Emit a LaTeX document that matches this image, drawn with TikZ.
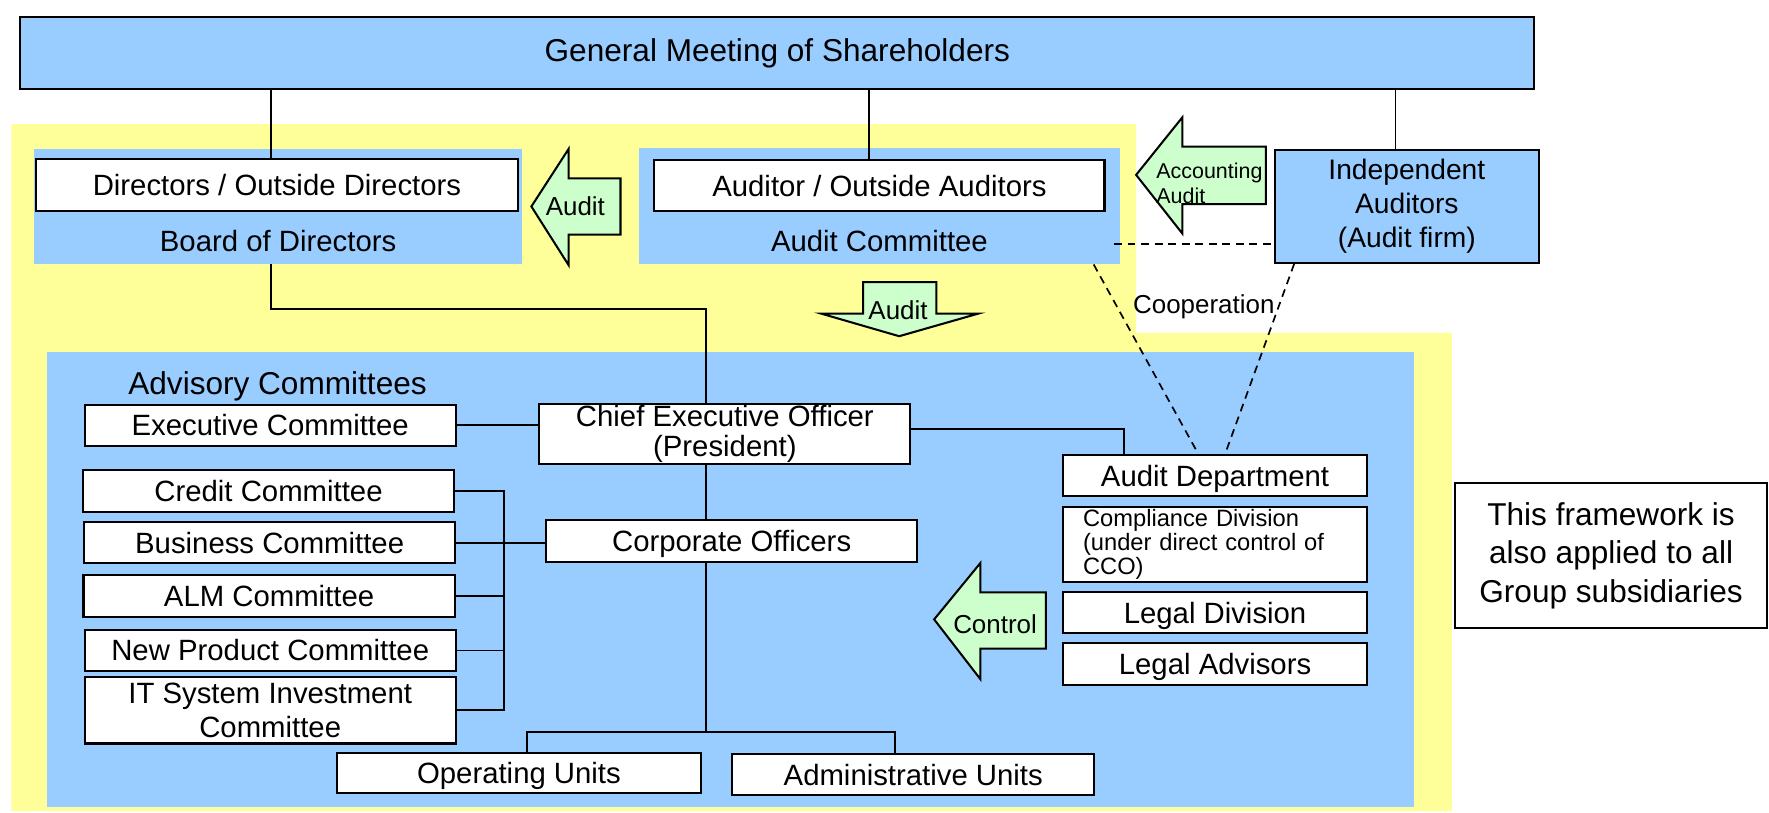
\documentclass[tikz,border=0pt]{standalone}
\usepackage{fontspec}
\setmainfont{Liberation Sans}
\definecolor{panelblue}{HTML}{99CCFF}
\definecolor{backyellow}{HTML}{FFFF99}
\definecolor{arrowgreen}{HTML}{CCFFCC}
\newcommand{\fs}[2]{\fontsize{#1}{#2}\selectfont}

\begin{document}
\begin{tikzpicture}[x=0.5pt, y=-0.5pt,
   every node/.style={font=\fs{13pt}{13.5pt}, inner sep=0pt, align=center},
   box/.style={draw, fill=white, line width=0.9pt, minimum width=164.5pt, minimum height=18pt,
               text height=11.8pt, text depth=2.5pt},
   multi/.style={text height=, text depth=},
   panel/.style={fill=panelblue},
   bigarrow/.style={draw, fill=arrowgreen, line width=0.9pt, line join=miter},
   small/.style={font=\fs{11.5pt}{12pt}},
   link/.style={line width=0.75pt},
   coop/.style={link, dash pattern=on 3.5pt off 2.5pt}]

\useasboundingbox (0,0) rectangle (1568,720);
\fill[backyellow] (10,110) -- (1007,110) -- (1007,295) -- (1287,295) -- (1287,719) -- (10,719) -- cycle;
\fill[panelblue] (42,312) rectangle (1253,715);

\node[panel, draw, line width=0.9pt, minimum width=671pt, minimum height=32pt, font=\fs{14pt}{16pt}] (gms) at (689,47) {General Meeting of Shareholders};

\node[panel, minimum width=216.5pt, minimum height=51pt] (board) at (246.5,183) {};
\node[box, minimum width=213.5pt, minimum height=23pt] (dirs) at (245.5,164) {Directors / Outside Directors};
\node (boardtext) at (246.5,214) {Board of Directors};

\node[panel, minimum width=213.5pt, minimum height=51.5pt] (auditcom) at (779.5,182.5) {};
\node[box, minimum width=199.5pt, minimum height=22.5pt] (auditors) at (779.5,164.5) {Auditor / Outside Auditors};
\node (auditcomtext) at (779.5,214) {Audit Committee};

\node[panel, draw, line width=0.9pt, minimum width=117pt, minimum height=50pt, font=\fs{12.5pt}{15pt}] (indep) at (1247,183) {Independent\\Auditors\\(Audit firm)};

\node[font=\fs{14pt}{16pt}] (advisory) at (246,342) {Advisory Committees};
\node[box] (exec) at (239.5,377) {Executive Committee};
\node[box, multi, minimum height=26.5pt] (ceo) at (642.5,384.5) {Chief Executive Officer\\(President)};
\node[box, minimum height=18.5pt] (credit) at (238,435.5) {Credit Committee};
\node[box] (business) at (239,481) {Business Committee};
\node[box, minimum height=18.5pt] (alm) at (238.5,528.5) {ALM Committee};
\node[box, minimum height=18.5pt] (newprod) at (239.5,576.5) {New Product Committee};
\node[box, multi, minimum height=29.5pt, font=\fs{13pt}{15pt}] (itsys) at (239.5,629.5) {IT System Investment\\Committee};
\node[box, minimum height=18.5pt] (corp) at (648.5,479.5) {Corporate Officers};
\node[box, minimum width=161pt] (opunits) at (460,685) {Operating Units};
\node[box, minimum width=160.5pt] (adminunits) at (809.5,686.5) {Administrative Units};

\node[box, minimum width=135pt, minimum height=18.5pt] (auditdept) at (1077,421.5) {Audit Department};
\node[box, multi, minimum width=135pt, minimum height=33.5pt, text width=117pt, align=left, font=\fs{10.5pt}{10.5pt}] (compliance) at (1077,482.5) {Compliance Division\\(under direct control of\\CCO)};
\node[box, minimum width=135pt] (legaldiv) at (1077,543) {Legal Division};
\node[box, minimum width=135pt, minimum height=18.5pt] (legaladv) at (1077,588.5) {Legal Advisors};

\node[box, multi, minimum width=138pt, minimum height=64.5pt, font=\fs{14pt}{17pt}] (framework) at (1428,492.5) {This framework is\\also applied to all\\Group subsidiaries};

\draw[bigarrow] (471,183) -- (504,132) -- (504,158) -- (550,158) -- (550,208) -- (504,208) -- (504,235) -- cycle;
\node[small] (auditleft) at (510,183) {Audit};
\draw[bigarrow] (1007,155) -- (1048,104) -- (1048,130) -- (1122,130) -- (1122,181) -- (1048,181) -- (1048,207) -- cycle;
\node[font=\fs{9.5pt}{11.5pt}, align=left] (acctaudit) at (1072,162.5) {Accounting\\Audit};
\draw[bigarrow] (765,250) -- (830,250) -- (830,278) -- (867,278) -- (797,298) -- (728,278) -- (765,278) -- cycle;
\node[small] (auditdown) at (796,275) {Audit};
\draw[bigarrow] (828,549) -- (869,499) -- (869,525) -- (927,525) -- (927,575) -- (869,575) -- (869,602) -- cycle;
\node[small] (control) at (882,553) {Control};

\coordinate (spine) at (626,274);
\coordinate (bus) at (447,481);
\coordinate (split) at (626,649);

\draw[link] ([xshift=-2.75pt]dirs.north) -- ([xshift=-2.75pt]dirs.north |- gms.south);
\draw[link] ([xshift=-4.75pt]auditors.north) -- ([xshift=-4.75pt]auditors.north |- gms.south);
\draw[link] ([xshift=-5pt]indep.north) -- ([xshift=-5pt]indep.north |- gms.south);
\draw[link] ([xshift=-3.25pt]board.south) |- (spine) -- (ceo.north -| spine);
\draw[link] (exec.east) -- (exec.east -| ceo.west);
\draw[link] ([yshift=2.25pt]ceo.east) -| ([xshift=27.5pt]auditdept.north west);
\draw[link] (ceo.south -| spine) -- (corp.north -| spine);
\draw[link] (corp.south -| spine) -- (split);
\draw[link] ([xshift=3.5pt]opunits.north) |- (split) -| ([xshift=-8.25pt]adminunits.north);
\draw[link] (credit.east) -| (bus |- itsys.east) -- (itsys.east);
\foreach \n in {alm, newprod}
    \draw[link] (\n.east) -- (\n.east -| bus);
\draw[link] (business.east) -- (business.east -| corp.west);

\draw[coop] ([xshift=-3pt, yshift=-16.75pt]auditcom.east) -- ([yshift=-16.75pt]auditcom.east -| indep.west);
\draw[coop] ([xshift=-12pt]auditcom.south east) -- ([xshift=-7.5pt]auditdept.north);
\draw[coop] ([xshift=9pt]indep.south west) -- ([xshift=4.5pt]auditdept.north);
\node[small] (cooperation) at (1067,272) {Cooperation};

\end{tikzpicture}
\end{document}
